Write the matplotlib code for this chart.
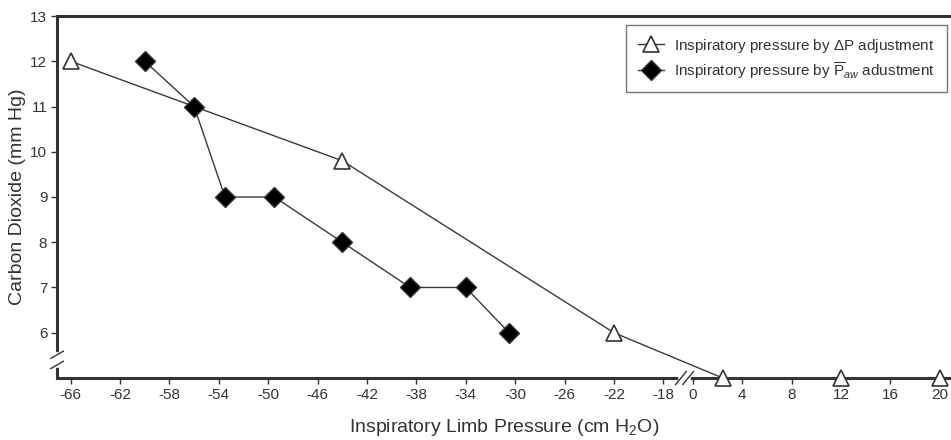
import numpy as np
import matplotlib
matplotlib.use("Agg")
import matplotlib.pyplot as plt

plt.rcParams['font.family'] = ['Liberation Sans', 'DejaVu Sans']
plt.rcParams['mathtext.fontset'] = 'custom'
plt.rcParams['mathtext.rm'] = 'Liberation Sans'
plt.rcParams['mathtext.it'] = 'Liberation Sans:italic'

# data
dp_x = [-66, -44, -22, 2.4, 12, 20]
dp_y = [12, 9.8, 6, 5, 5, 5]
paw_x = [-60, -56, -53.5, -49.5, -44, -38.5, -34, -30.5]
paw_y = [12, 11, 9, 9, 8, 7, 7, 6]

xticks = [-66, -62, -58, -54, -50, -46, -42, -38, -34, -30, -26, -22, -18,
          0, 4, 8, 12, 16, 20]
yticks = [6, 7, 8, 9, 10, 11, 12, 13]

# broken x axis: compress the -18..0 gap
GAP = 2.4
def fwd(x):
    x = np.asarray(x, dtype=float)
    return np.where(x >= 0, x - 18 + GAP,
                    np.where(x <= -18, x, -18 + (x + 18) * GAP / 18))

def inv(u):
    u = np.asarray(u, dtype=float)
    return np.where(u >= -18 + GAP, u + 18 - GAP,
                    np.where(u <= -18, u, -18 + (u + 18) * 18 / GAP))

col = '#333333'
fig = plt.figure(figsize=(9.51, 4.4), dpi=100)
ax = fig.add_axes([0.06, 0.141, 0.94, 0.8226])
ax.set_xscale('function', functions=(fwd, inv))

ax.plot(dp_x, dp_y, color='#3a3a3a', lw=1.0, marker='^', ms=12, mfc='white',
        mec=col, mew=1.2, clip_on=False, zorder=3,
        label=r'Inspiratory pressure by $\Delta$P adjustment')
ax.plot(paw_x, paw_y, color='#3a3a3a', lw=1.0, marker='D', ms=10, mfc='black',
        mec=col, clip_on=False, zorder=3,
        label=r'Inspiratory pressure by $\overline{\mathrm{P}}_{aw}$ adustment')

ax.set_xlim(-67.1, 20.9)
ax.set_ylim(5, 13)
ax.set_xticks(xticks)
ax.set_xticklabels([str(t) for t in xticks])
ax.set_yticks(yticks)
ax.minorticks_off()

for s in ['left', 'bottom', 'top']:
    ax.spines[s].set_color(col)
    ax.spines[s].set_linewidth(2.2)
ax.spines['right'].set_visible(False)
ax.tick_params(colors=col, labelsize=11, length=4, width=1, pad=3)

ax.set_xlabel('Inspiratory Limb Pressure (cm H$_2$O)', fontsize=14,
              color=col, labelpad=11)
ax.set_ylabel('Carbon Dioxide (mm Hg)', fontsize=14, color=col, labelpad=3)

# break marks
yb = 0.05
ax.plot([0, 0], [yb - 0.014, yb + 0.014], transform=ax.transAxes,
        color='white', lw=4, clip_on=False, zorder=5)
for d in (-0.014, 0.014):
    ax.plot([-0.007, 0.007], [yb + d - 0.01, yb + d + 0.01],
            transform=ax.transAxes, color=col, lw=1, clip_on=False, zorder=6)
xb = 0.702
ax.plot([xb - 0.004, xb + 0.004], [0, 0], transform=ax.transAxes,
        color='white', lw=4, clip_on=False, zorder=5)
for d in (-0.004, 0.004):
    ax.plot([xb + d - 0.006, xb + d + 0.006], [-0.018, 0.018],
            transform=ax.transAxes, color=col, lw=1, clip_on=False, zorder=6)

leg = ax.legend(loc='upper right', bbox_to_anchor=(0.9955, 0.975),
                borderaxespad=0, fontsize=11, fancybox=False,
                edgecolor='#777777', framealpha=1, handlelength=1.7,
                handletextpad=0.7, borderpad=0.75, labelspacing=0.35)
leg.get_frame().set_linewidth(1.0)
for t in leg.get_texts():
    t.set_color(col)

fig.savefig('out.png', dpi=100)
